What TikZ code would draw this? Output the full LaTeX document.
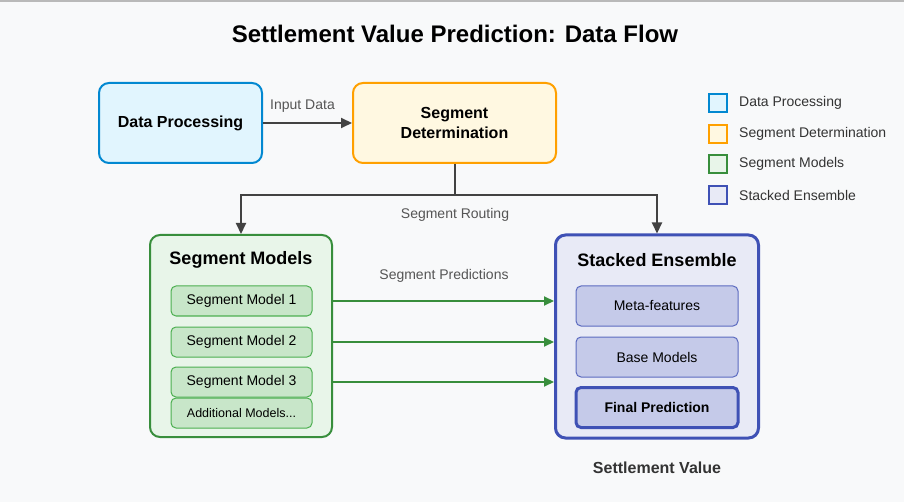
\documentclass[tikz,border=0pt]{standalone}
\usepackage{fontspec}
\setmainfont{Liberation Sans}
\usetikzlibrary{arrows.meta,positioning}

\definecolor{bgcol}{HTML}{F8F9FA}
\definecolor{dpfill}{HTML}{E1F5FE}
\definecolor{dpdraw}{HTML}{0288D1}
\definecolor{sdfill}{HTML}{FFF8E1}
\definecolor{sddraw}{HTML}{FFA000}
\definecolor{smfill}{HTML}{E8F5E9}
\definecolor{smdraw}{HTML}{388E3C}
\definecolor{sminner}{HTML}{C8E6C9}
\definecolor{sminnerdraw}{HTML}{4CAF50}
\definecolor{sefill}{HTML}{E8EAF6}
\definecolor{sedraw}{HTML}{3F51B5}
\definecolor{seinner}{HTML}{C5CAE9}
\definecolor{seinnerdraw}{HTML}{5C6BC0}
\definecolor{flow}{HTML}{424242}
\definecolor{labelcol}{HTML}{555555}
\definecolor{textcol}{HTML}{333333}

\tikzset{
  bigbox/.style={draw, rounded corners=10pt, line width=2pt, inner sep=0pt},
  smallbox/.style={draw, rounded corners=5pt, line width=1pt, inner sep=0pt,
    minimum width=141pt, font=\fontsize{14}{16}\selectfont},
  flowarrow/.style={draw=flow, line width=2pt, -{Triangle[length=11pt,width=10pt]}},
  greenarrow/.style={draw=smdraw, line width=2pt, -{Triangle[length=10pt,width=9pt]}},
  flowlabel/.style={text=labelcol, font=\fontsize{14}{16}\selectfont},
  legendbox/.style={draw, line width=2pt, minimum size=18pt, inner sep=0pt},
}

\begin{document}
\begin{tikzpicture}[x=1pt, y=-1pt]
\fill[bgcol] (0,0) rectangle (904,502);
\fill[gray!55] (0,0) rectangle (904,2);
\useasboundingbox (0,0) rectangle (904,502);

\node[font=\fontsize{24}{28}\selectfont\bfseries] (title) at (455,34) {Settlement Value Prediction: Data Flow};

% top row
\node[bigbox, fill=dpfill, draw=dpdraw, minimum width=163pt, minimum height=80pt,
  font=\fontsize{16}{19}\selectfont\bfseries] (dataproc) at (180.5,123) {Data Processing};
\node[bigbox, fill=sdfill, draw=sddraw, minimum width=203pt, minimum height=80pt,
  align=center, font=\fontsize{16}{20}\selectfont\bfseries] (segdet) at (454.5,123) {Segment\\Determination};
\draw[flowarrow] (dataproc) -- node[flowlabel, above=6pt, xshift=-5pt] {Input Data} (segdet);

% segment models
\node[bigbox, fill=smfill, draw=smdraw, minimum width=182pt, minimum height=202pt] (segmodels) at (241,336) {};
\node[font=\fontsize{18}{21}\selectfont\bfseries] (smtitle) at (241,260) {Segment Models};
\foreach \i/\y in {1/301, 2/342, 3/382} {
  \node[smallbox, fill=sminner, draw=sminnerdraw, minimum height=30pt] (sm\i) at (241.5,\y) {Segment Model \i};
}
\node[smallbox, fill=sminner, draw=sminnerdraw, minimum height=30pt,
  font=\fontsize{12.5}{14}\selectfont] (smextra) at (241.5,413) {Additional Models...};

% stacked ensemble
\node[bigbox, fill=sefill, draw=sedraw, line width=3pt, minimum width=203pt, minimum height=203pt] (stacked) at (657,336.5) {};
\node[font=\fontsize{18}{21}\selectfont\bfseries] (setitle) at (657,260) {Stacked Ensemble};
\node[smallbox, fill=seinner, draw=seinnerdraw, minimum width=162pt, minimum height=40pt] (meta) at (657,306) {Meta-features};
\node[smallbox, fill=seinner, draw=seinnerdraw, minimum width=162pt, minimum height=40pt] (base) at (657,357) {Base Models};
\node[smallbox, fill=seinner, draw=sedraw, line width=3pt, minimum width=162pt, minimum height=40pt,
  font=\fontsize{14}{16}\selectfont\bfseries] (final) at (657,407.5) {Final Prediction};
\node[text=textcol, font=\fontsize{16}{19}\selectfont\bfseries] (outcome) at (657,468) {Settlement Value};

% routing
\coordinate (split) at (segdet.south |- 0,195);
\draw[draw=flow, line width=2pt] (segdet.south) -- (split);
\draw[flowarrow] (split) -| (segmodels.north);
\draw[flowarrow] (split) -| (stacked.north);
\node[flowlabel] (routing) at (455,215) {Segment Routing};

% predictions
\foreach \i in {1,2,3} {
  \draw[greenarrow] (segmodels.east |- sm\i) -- (stacked.west |- sm\i);
}
\node[flowlabel] (predlabel) at (444,276) {Segment Predictions};

% legend
\foreach \n/\txt/\f/\d/\y in {a/Data Processing/dpfill/dpdraw/103,
    b/Segment Determination/sdfill/sddraw/134,
    c/Segment Models/smfill/smdraw/164,
    d/Stacked Ensemble/sefill/sedraw/195} {
  \node[legendbox, fill=\f, draw=\d] (leg\n) at (718,\y) {};
  \node[right=11pt of leg\n, text=textcol, font=\fontsize{14}{16}\selectfont, inner sep=0pt] (legtext\n) {\txt};
}
\end{tikzpicture}
\end{document}
